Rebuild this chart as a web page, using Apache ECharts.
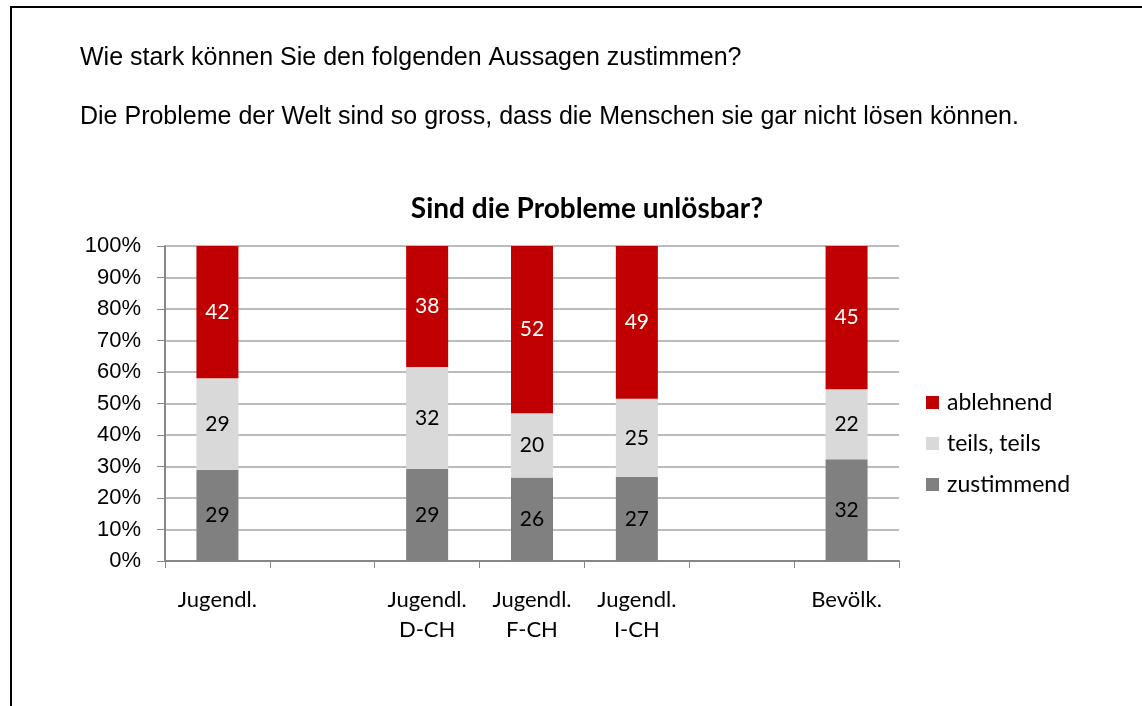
<!DOCTYPE html>
<html>
<head>
<meta charset="utf-8">
<script src="https://cdn.jsdelivr.net/npm/echarts@6/dist/echarts.min.js"></script>
<style>
html,body{margin:0;padding:0;background:#fff;}
#main{width:1142px;height:706px;}
</style>
</head>
<body>
<div id="main"></div>
<script>
//Kategorien (leere Plätze als Abstand)
let categories=["Jugendl.","","Jugendl.\nD-CH","Jugendl.\nF-CH","Jugendl.\nI-CH","","Bevölk."];
let zustimmend=[29,null,29,26,27,null,32];
let teils=[29,null,32,20,25,null,22];
let ablehnend=[42,null,38,52,49,null,45];
let yTicks=[0,10,20,30,40,50,60,70,80,90,100];

let fontLabel="Lato, 'Open Sans', sans-serif";
let fontArial="'Liberation Sans', Arial, sans-serif";

//Anteile auf 100% normieren
function share(arr,i){
	if(arr[i]==null){return null;}
	let sum=zustimmend[i]+teils[i]+ablehnend[i];
	return arr[i]/sum*100;
}
function makeSeries(name,arr,color,textColor){
	return {
		name:name,
		type:"bar",
		stack:"total",
		barWidth:42,
		data:arr.map(function(v,i){return share(arr,i);}),
		itemStyle:{color:color},
		label:{
			show:true,
			position:"inside",
			fontFamily:fontLabel,
			fontSize:21,
			color:textColor,
			formatter:function(p){return arr[p.dataIndex];}
		}
	};
}

let chart=echarts.init(document.getElementById("main"));
let option={
	animation:false,
	graphic:[
		{type:"line",shape:{x1:11,y1:7,x2:11,y2:706},style:{stroke:"#000",lineWidth:2}},
		{type:"line",shape:{x1:10,y1:7,x2:1142,y2:7},style:{stroke:"#000",lineWidth:2}},
		{type:"text",x:80,y:58,style:{text:"Wie stark können Sie den folgenden Aussagen zustimmen?",font:"25px "+fontArial,fill:"#000",verticalAlign:"middle"}},
		{type:"text",x:80,y:117,style:{text:"Die Probleme der Welt sind so gross, dass die Menschen sie gar nicht lösen können.",font:"25px "+fontArial,fill:"#000",verticalAlign:"middle"}}
	],
	title:{
		text:"Sind die Probleme unlösbar?",
		left:582,
		textAlign:"center",
		top:190,
		textStyle:{fontFamily:fontLabel,fontSize:28,fontWeight:"bold",color:"#000"}
	},
	legend:{
		orient:"vertical",
		left:921,
		top:384,
		itemWidth:13,
		itemHeight:13,
		itemGap:14,
		icon:"rect",
		data:["ablehnend","teils, teils","zustimmend"],
		textStyle:{fontFamily:fontLabel,fontSize:23,lineHeight:27,color:"#000",padding:[0,0,0,3]}
	},
	grid:{left:165,right:243,top:246,bottom:145},
	xAxis:{
		type:"category",
		data:categories,
		axisLine:{lineStyle:{color:"#878787",width:2}},
		axisTick:{show:true,length:7,lineStyle:{color:"#878787",width:1}},
		axisLabel:{
			interval:0,
			margin:24,
			fontFamily:fontLabel,
			fontSize:22,
			lineHeight:30,
			color:"#000"
		}
	},
	yAxis:{
		type:"value",
		min:0,
		max:100,
		interval:10,
		axisLine:{show:true,lineStyle:{color:"#878787",width:2}},
		axisTick:{show:true,length:8,lineStyle:{color:"#878787"}},
		splitLine:{lineStyle:{color:"#a6a6a6",width:1.5}},
		axisLabel:{
			margin:24,
			fontFamily:fontArial,
			fontSize:22,
			color:"#000",
			formatter:function(v){return yTicks.indexOf(v)>=0?v+"%":"";}
		}
	},
	series:[
		makeSeries("zustimmend",zustimmend,"#808080","#000"),
		makeSeries("teils, teils",teils,"#d9d9d9","#000"),
		makeSeries("ablehnend",ablehnend,"#c00000","#fff")
	]
};
chart.setOption(option);
</script>
</body>
</html>
